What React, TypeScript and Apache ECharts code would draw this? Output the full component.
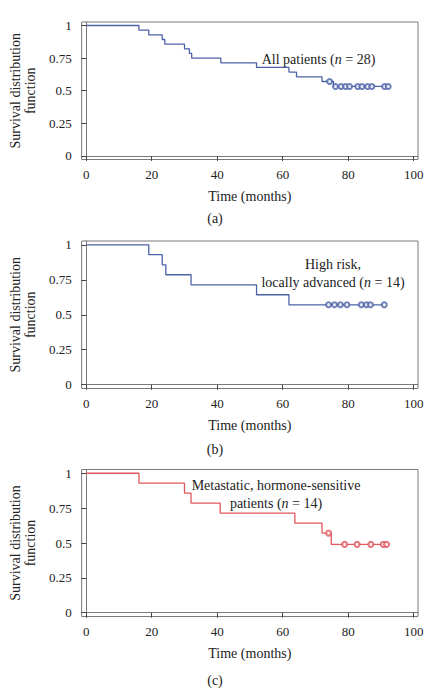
import React, { useEffect, useRef } from 'react';
import * as echarts from 'echarts';

const xTickValues = [0, 20, 40, 60, 80, 100];
const yTickValues = [0, 0.25, 0.5, 0.75, 1];

// (a) All patients (n = 28)
const allTimes = [0, 16.1, 19.1, 23.2, 24.0, 30.0, 31.5, 32.2, 41.1, 52.0, 61.9, 64.2, 72.0, 75.5, 92.2];
const allSurv = [1, 0.964, 0.929, 0.893, 0.857, 0.821, 0.786, 0.75, 0.714, 0.679, 0.643, 0.607, 0.571, 0.533, 0.533];
const allCensored = [74.3, 76.1, 77.8, 79.2, 80.4, 82.9, 84.2, 85.9, 87.2, 91.1, 92.2];

// (b) High risk, locally advanced (n = 14)
const hrTimes = [0, 19.1, 23.2, 24.3, 32.0, 52.0, 61.9, 91.0];
const hrSurv = [1, 0.929, 0.857, 0.786, 0.714, 0.643, 0.571, 0.571];
const hrCensored = [74.0, 75.8, 77.6, 79.6, 84.0, 85.6, 86.8, 91.0];

// (c) Metastatic, hormone-sensitive patients (n = 14)
const mhTimes = [0, 16.1, 30.0, 32.0, 40.9, 63.7, 72.0, 74.8, 91.7];
const mhSurv = [1, 0.929, 0.857, 0.786, 0.714, 0.643, 0.571, 0.49, 0.49];
const mhCensored = [74.0, 78.9, 82.7, 86.9, 90.7, 91.7];

const FONT = '"Liberation Serif", "DejaVu Serif", serif';
const BLUE = '#4d62a6';
const RED = '#e0575c';

function survAt(times: number[], surv: number[], t: number): number {
  let v = surv[0];
  for (let i = 0; i < times.length; i++) {
    if (times[i] <= t) v = surv[i];
  }
  return v;
}

const grids = [
  { left: 78, top: 22, width: 340, height: 137.5 },
  { left: 78, top: 241, width: 340, height: 147.5 },
  { left: 78, top: 469.5, width: 340, height: 147 },
];

export default function App() {
  const ref = useRef<HTMLDivElement>(null);
  useEffect(() => {
    if (!ref.current) return;
    const chart = echarts.init(ref.current, null, { renderer: 'svg' });

    const xAxes = grids.map((_, i) => ({
      type: 'value',
      gridIndex: i,
      min: -1.4,
      max: 101.3,
      name: 'Time (months)',
      nameLocation: 'middle',
      nameGap: 30,
      nameTextStyle: { fontFamily: FONT, fontSize: 14, color: '#222' },
      axisLine: { show: true, lineStyle: { color: '#7a7a7a', width: 1 } },
      axisTick: { show: true, length: 5, customValues: xTickValues, lineStyle: { color: '#444' } },
      axisLabel: { customValues: xTickValues, margin: 8, fontFamily: FONT, fontSize: 13, color: '#222' },
      splitLine: { show: false },
    }));
    const yAxes = grids.map((_, i) => ({
      type: 'value',
      gridIndex: i,
      min: -0.027,
      max: 1.027,
      name: 'Survival distribution\nfunction',
      nameLocation: 'middle',
      nameGap: 37,
      nameTextStyle: { fontFamily: FONT, fontSize: 14, color: '#222', lineHeight: 15 },
      axisLine: { show: true, lineStyle: { color: '#7a7a7a', width: 1 } },
      axisTick: { show: true, length: 5, customValues: yTickValues, lineStyle: { color: '#444' } },
      axisLabel: {
        customValues: yTickValues,
        margin: 10,
        fontFamily: FONT,
        fontSize: 13,
        color: '#222',
        formatter: (v: number) => String(v),
      },
      splitLine: { show: false },
    }));

    const panels = [
      { times: allTimes, surv: allSurv, cens: allCensored, color: BLUE },
      { times: hrTimes, surv: hrSurv, cens: hrCensored, color: BLUE },
      { times: mhTimes, surv: mhSurv, cens: mhCensored, color: RED },
    ];
    const series: any[] = [];
    panels.forEach((p, i) => {
      series.push({
        type: 'line',
        xAxisIndex: i,
        yAxisIndex: i,
        step: 'end',
        symbol: 'none',
        lineStyle: { color: p.color, width: 1.3 },
        data: p.times.map((t, k) => [t, p.surv[k]]),
      });
      series.push({
        type: 'scatter',
        xAxisIndex: i,
        yAxisIndex: i,
        symbol: 'emptyCircle',
        symbolSize: 5,
        z: 5,
        itemStyle: { color: p.color, borderColor: p.color, borderWidth: 1 },
        data: p.cens.map((t) => [t, survAt(p.times, p.surv, t)]),
      });
    });

    const rich = {
      i: { fontFamily: FONT, fontSize: 14, fontStyle: 'italic', fill: '#222' },
    };
    const txt = (x: number, y: number, text: string, extra: any = {}) => ({
      type: 'text',
      x,
      y,
      style: {
        text,
        fontFamily: FONT,
        fontSize: 14,
        fill: '#222',
        align: 'center',
        verticalAlign: 'middle',
        rich,
        ...extra,
      },
    });

    chart.setOption({
      animation: false,
      grid: grids.map((g) => ({ ...g, show: true, borderColor: '#7a7a7a', borderWidth: 1, containLabel: false })),
      xAxis: xAxes,
      yAxis: yAxes,
      series,
      graphic: [
        txt(318.5, 59, 'All patients ({i|n} = 28)'),
        txt(333, 273.5, 'High risk,\nlocally advanced ({i|n} = 14)', { lineHeight: 18 }),
        txt(276, 494, 'Metastatic, hormone-sensitive\npatients ({i|n} = 14)', { lineHeight: 18 }),
        txt(215, 218, '(a)'),
        txt(215, 449, '(b)'),
        txt(215, 680, '(c)'),
      ],
    });
    return () => chart.dispose();
  }, []);
  return (
    <div
      ref={ref}
      style={{ position: 'absolute', left: 0, top: 0, width: 447, height: 695, background: '#fff' }}
    />
  );
}
